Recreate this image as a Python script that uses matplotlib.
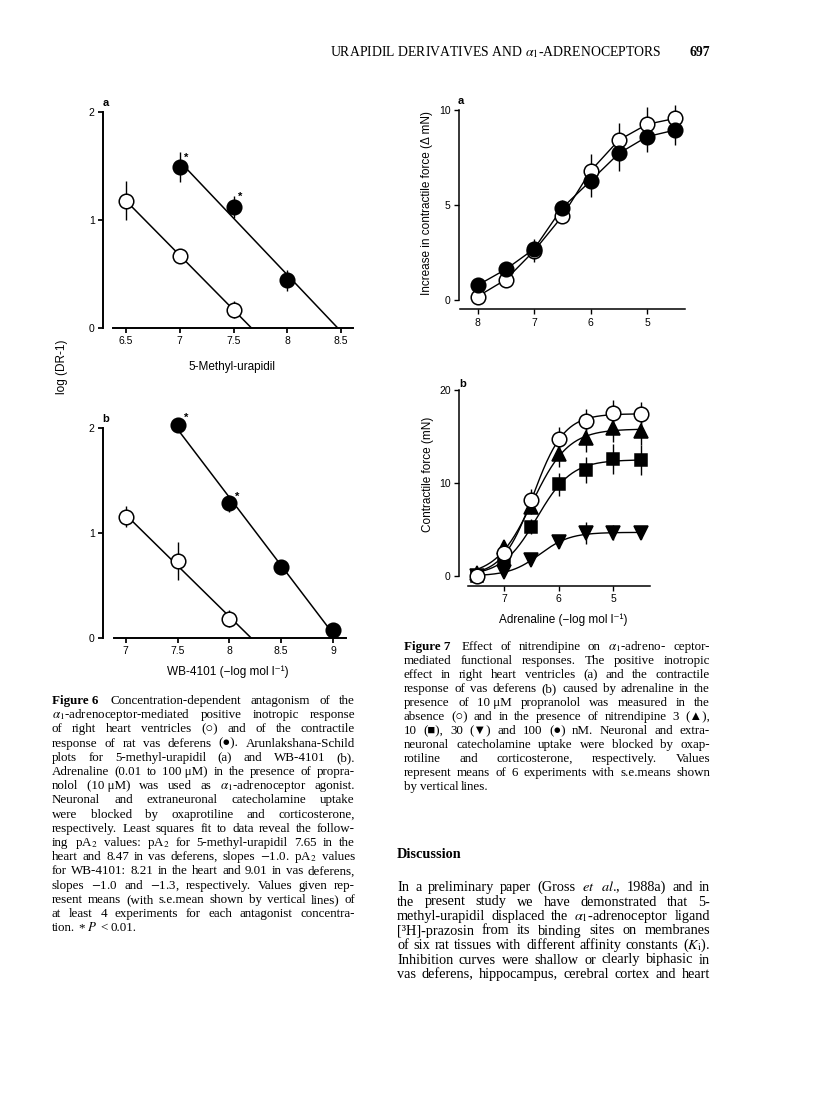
import numpy as np
import matplotlib
matplotlib.use('Agg')
import matplotlib.pyplot as plt

W, H = 816, 1113

# Figure 6a: 5-methyl-urapidil (log(DR-1) vs -log M)
mu_x_heart = [6.5, 7.0, 7.5]
mu_y_heart = [1.18, 0.67, 0.17]
mu_e_heart = [0.18, 0.05, 0.08]
mu_x_vas = [7.0, 7.5, 8.0]
mu_y_vas = [1.49, 1.12, 0.44]
mu_e_vas = [0.14, 0.10, 0.10]
mu_star = [True, True, False]

# Figure 6b: WB-4101
wb_x_heart = [7.0, 7.5, 8.0]
wb_y_heart = [1.15, 0.73, 0.18]
wb_e_heart = [0.10, 0.18, 0.08]
wb_x_vas = [7.5, 8.0, 8.5, 9.0]
wb_y_vas = [2.03, 1.28, 0.67, 0.07]
wb_e_vas = [0.06, 0.08, 0.04, 0.03]
wb_star = [True, True, False, False]

# Figure 7a: heart, control (open) vs nitrendipine 100 nM (filled)
ha_x = [8.0, 7.5, 7.0, 6.5, 6.0, 5.5, 5.0, 4.5]
ha_ctrl = [0.20, 1.09, 2.60, 4.42, 6.80, 8.42, 9.25, 9.56]
ha_ctrl_e = [0.10, 0.30, 0.60, 0.30, 0.90, 0.90, 0.90, 0.70]
ha_nit = [0.79, 1.63, 2.70, 4.86, 6.28, 7.72, 8.60, 8.95]
ha_nit_e = [0.10, 0.30, 0.40, 0.40, 0.85, 0.90, 0.80, 0.80]

# Figure 7b: vas deferens, control and nitrendipine 3, 10, 30 nM
vd_x = [7.5, 7.0, 6.5, 6.0, 5.5, 5.0, 4.5]
vd_ctrl = [0.0, 2.44, 8.17, 14.7, 16.7, 17.5, 17.4]
vd_ctrl_e = [0.3, 0.5, 1.2, 1.3, 1.3, 1.4, 1.3]
vd_n3 = [0.3, 3.15, 7.45, 13.1, 14.8, 15.9, 15.6]
vd_n3_e = [0.3, 0.5, 0.8, 1.4, 1.5, 1.5, 1.5]
vd_n10 = [0.0, 1.7, 5.3, 9.85, 11.4, 12.6, 12.5]
vd_n10_e = [0.3, 0.6, 0.8, 1.2, 1.4, 1.6, 1.6]
vd_n30 = [0.0, 0.46, 1.7, 3.6, 4.6, 4.65, 4.6]
vd_n30_e = [0.2, 0.5, 0.5, 0.6, 1.2, 0.8, 0.6]

SANS = ['Liberation Sans', 'DejaVu Sans']
SERIF = ['Liberation Serif', 'DejaVu Sans']
plt.rcParams['mathtext.fontset'] = 'stix'

fig = plt.figure(figsize=(W / 100, H / 100), dpi=100)
fig.patch.set_facecolor('white')
renderer = fig.canvas.get_renderer()


def ptext(x, y, s, **kw):
    return fig.text(x / W, 1 - y / H, s, **kw)


def make_ax(left, right, top, bottom, xlim, ylim, ymax, outward, lw,
            xticks, yticks):
    ax = fig.add_axes([left / W, 1 - bottom / H, (right - left) / W, (bottom - top) / H])
    ax.set_xlim(xlim)
    ax.set_ylim(ylim)
    ax.patch.set_alpha(0)
    for s in ['top', 'right']:
        ax.spines[s].set_visible(False)
    ax.spines['left'].set_position(('outward', outward * 0.72))
    ax.spines['left'].set_bounds(0, ymax)
    ax.spines['left'].set_linewidth(lw)
    ax.spines['bottom'].set_linewidth(lw)
    ax.set_xticks(xticks)
    ax.set_xticklabels(['%g' % t for t in xticks], family=SANS, size=7.5)
    ax.set_yticks(yticks)
    ax.set_yticklabels(['%g' % t for t in yticks], family=SANS, size=7.5)
    ax.tick_params(direction='out', length=3.5, width=lw * 0.9, pad=2.5)
    return ax


def points(ax, x, y, e, marker, filled, ms=10.5):
    y = np.asarray(y)
    e = np.asarray(e)
    ax.vlines(x, y - e, y + e, color='black', lw=1.0, zorder=2, clip_on=False)
    ax.plot(x, y, ls='none', marker=marker, ms=ms, mec='black', mew=1.1,
            mfc='black' if filled else 'white', zorder=3, clip_on=False)


def schild(ax, x, y, x_start=None):
    slope, icpt = np.polyfit(x, y, 1)
    x0 = x[0] if x_start is None else x_start
    x1 = -icpt / slope
    ax.plot([x0, x1], [slope * x0 + icpt, 0], color='black', lw=1.1, zorder=1)


def stars(ax, x, y, flags, dx, dy):
    for xi, yi, f in zip(x, y, flags):
        if f:
            ax.annotate('*', (xi, yi), xytext=(dx, dy), textcoords='offset points',
                        fontsize=8, family=SANS, weight='bold', ha='center',
                        va='center', annotation_clip=False)


def hill(x, y):
    x = np.asarray(x)
    y = np.asarray(y)
    P, N = np.meshgrid(np.arange(5.5, 7.5, 0.005), np.arange(0.5, 3.0, 0.01))
    F = 1 / (1 + 10 ** (N[..., None] * (x - P[..., None])))
    top = (F * y).sum(-1) / (F * F).sum(-1)
    res = ((top[..., None] * F - y) ** 2).sum(-1)
    i = np.unravel_index(np.argmin(res), res.shape)
    return P[i], N[i], top[i]


# ---- Figure 6a
ax = make_ax(113, 353, 112, 328, (6.38, 8.61), (0, 2), 2, 10, 1.4,
             [6.5, 7, 7.5, 8, 8.5], [0, 1, 2])
schild(ax, mu_x_heart, mu_y_heart)
schild(ax, mu_x_vas, mu_y_vas)
points(ax, mu_x_heart, mu_y_heart, mu_e_heart, 'o', False)
points(ax, mu_x_vas, mu_y_vas, mu_e_vas, 'o', True)
stars(ax, mu_x_vas, mu_y_vas, mu_star, 5, 7)

# ---- Figure 6b
ax = make_ax(114, 346, 427.7, 637.7, (6.887, 9.126), (0, 2), 2, 11, 1.4,
             [7, 7.5, 8, 8.5, 9], [0, 1, 2])
schild(ax, wb_x_heart, wb_y_heart)
schild(ax, wb_x_vas, wb_y_vas, x_start=7.42)
points(ax, wb_x_heart, wb_y_heart, wb_e_heart, 'o', False)
points(ax, wb_x_vas, wb_y_vas, wb_e_vas, 'o', True)
stars(ax, wb_x_vas, wb_y_vas, wb_star, 6, 5)

# ---- Figure 7a
ax = make_ax(460, 685, 110, 309.3, (8.31, 4.33), (-0.47, 10), 10, 1, 1.1,
             [8, 7, 6, 5], [0, 5, 10])
ax.plot(ha_x, ha_ctrl, color='black', lw=1.0, zorder=1)
ax.plot(ha_x, ha_nit, color='black', lw=1.0, zorder=1)
points(ax, ha_x, ha_ctrl, ha_ctrl_e, 'o', False)
points(ax, ha_x, ha_nit, ha_nit_e, 'o', True)

# ---- Figure 7b
ax = make_ax(468, 650, 390, 586, (7.66, 4.33), (-1.08, 20), 20, 9, 1.1,
             [7, 6, 5], [0, 10, 20])
xs = np.linspace(7.58, 4.5, 200)
for ys in [vd_ctrl, vd_n3, vd_n10, vd_n30]:
    p, n, top = hill(vd_x, ys)
    ax.plot(xs, top / (1 + 10 ** (n * (xs - p))), color='black', lw=1.0, zorder=1)
points(ax, vd_x, vd_n30, vd_n30_e, 'v', True, ms=9.5)
points(ax, vd_x, vd_n10, vd_n10_e, 's', True, ms=8.5)
points(ax, vd_x, vd_n3, vd_n3_e, '^', True, ms=9.5)
points(ax, vd_x, vd_ctrl, vd_ctrl_e, 'o', False)

# ---- axis labels and panel letters
ptext(103, 106, 'a', family=SANS, size=8, weight='bold', va='baseline')
ptext(102, 422, 'b', family=SANS, size=8, weight='bold', va='baseline')
ptext(458, 104, 'a', family=SANS, size=8, weight='bold', va='baseline')
ptext(459, 387, 'b', family=SANS, size=8, weight='bold', va='baseline')
ptext(232, 370, '5-Methyl-urapidil', family=SANS, size=8.5, ha='center', va='baseline')
ptext(228, 675, 'WB-4101 (\u2212log mol l\u207b\u00b9)', family=SANS, size=8.5,
      ha='center', va='baseline')
ptext(563, 623, 'Adrenaline (\u2212log mol l\u207b\u00b9)', family=SANS, size=8.5,
      ha='center', va='baseline')
ptext(62, 367, 'log (DR-1)', family=SANS, size=8.5, rotation=90, ha='center', va='center')
ptext(427, 203, 'Increase in contractile force (\u0394 mN)', family=SANS, size=8.5,
      rotation=90, ha='center', va='center')
ptext(428, 474, 'Contractile force (mN)', family=SANS, size=8.5, rotation=90,
      ha='center', va='center')

# ---- running header
ptext(330, 56, r'URAPIDIL DERIVATIVES AND $\alpha_1$-ADRENOCEPTORS', family=SERIF,
      size=9.9, va='baseline')
ptext(710, 56, '697', family=SERIF, size=9.9, weight='bold', ha='right', va='baseline')


def justify(x0, x1, y, line, size, fill=True, bold_first=0):
    words = line.split(' ')
    objs = [ptext(x0, y, w, family=SERIF, size=size, va='baseline',
                  weight='bold' if i < bold_first else 'normal')
            for i, w in enumerate(words)]
    widths = [o.get_window_extent(renderer).width for o in objs]
    gap = size * 0.3
    if fill and len(words) > 1:
        gap = max((x1 - x0 - sum(widths)) / (len(words) - 1), size * 0.15)
    x = x0
    for o, wd in zip(objs, widths):
        o.set_x(x / W)
        x += wd + gap


NB = '\u00a0'
MU = '\u03bc'
fig6_lines = [
    'Figure' + NB + '6' + NB + ' Concentration-dependent antagonism of the',
    r'$\alpha_1$-adrenoceptor-mediated positive inotropic response',
    'of right heart ventricles (\u25cb) and of the contractile',
    'response of rat vas deferens (\u25cf). Arunlakshana-Schild',
    'plots for 5-methyl-urapidil (a) and WB-4101 (b).',
    'Adrenaline (0.01 to 100' + NB + MU + 'M) in the presence of propra-',
    'nolol (10' + NB + MU + r'M) was used as $\alpha_1$-adrenoceptor agonist.',
    'Neuronal and extraneuronal catecholamine uptake',
    'were blocked by oxaprotiline and corticosterone,',
    'respectively. Least squares fit to data reveal the follow-',
    r'ing pA$_2$ values: pA$_2$ for 5-methyl-urapidil 7.65 in the',
    r'heart and 8.47 in vas deferens, slopes $-$1.0. pA$_2$ values',
    'for WB-4101: 8.21 in the heart and 9.01 in vas deferens,',
    r'slopes $-$1.0 and $-$1.3, respectively. Values given rep-',
    'resent means (with s.e.mean shown by vertical lines) of',
    'at least 4 experiments for each antagonist concentra-',
    r'tion. * $P$ < 0.01.',
]
fig7_lines = [
    'Figure' + NB + '7' + NB + r' Effect of nitrendipine on $\alpha_1$-adreno- ceptor-',
    'mediated functional responses. The positive inotropic',
    'effect in right heart ventricles (a) and the contractile',
    'response of vas deferens (b) caused by adrenaline in the',
    'presence of 10' + NB + MU + 'M propranolol was measured in the',
    'absence (\u25cb) and in the presence of nitrendipine 3 (\u25b2),',
    '10 (\u25a0), 30 (\u25bc) and 100 (\u25cf) nM. Neuronal and extra-',
    'neuronal catecholamine uptake were blocked by oxap-',
    'rotiline and corticosterone, respectively. Values',
    'represent means of 6 experiments with s.e.means shown',
    'by vertical lines.',
]
disc_lines = [
    r'In a preliminary paper (Gross $et$ $al$., 1988a) and in',
    'the present study we have demonstrated that 5-',
    r'methyl-urapidil displaced the $\alpha_1$-adrenoceptor ligand',
    '[\u00b3H]-prazosin from its binding sites on membranes',
    r'of six rat tissues with different affinity constants ($K_\mathrm{i}$).',
    'Inhibition curves were shallow or clearly biphasic in',
    'vas deferens, hippocampus, cerebral cortex and heart',
]

for i, line in enumerate(fig6_lines):
    justify(52, 355, 704 + i * 14.2, line, 9.4, fill=i < len(fig6_lines) - 1,
            bold_first=1 if i == 0 else 0)
for i, line in enumerate(fig7_lines):
    justify(404, 710, 650 + i * 14.0, line, 9.4, fill=i < len(fig7_lines) - 1,
            bold_first=1 if i == 0 else 0)

ptext(397, 858, 'Discussion', family=SERIF, size=10.3, weight='bold', va='baseline')
for i, line in enumerate(disc_lines):
    justify(397, 710, 891 + i * 14.5, line, 10.3)

fig.savefig('out.png', dpi=100, facecolor='white')
